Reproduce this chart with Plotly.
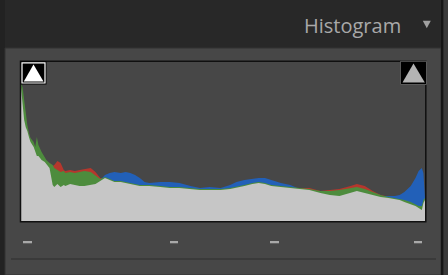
import plotly.graph_objects as go

# Tone levels (0-255) sampled along the histogram
levels = [0, 1, 2, 3, 4, 5, 6, 8, 9, 10, 11, 13, 15, 16, 18, 20, 21, 23, 25, 27, 28, 31, 34, 37, 40, 44, 47, 50,
          53, 56, 59, 63, 66, 69, 72, 75, 78, 81, 88, 94, 100, 107, 113, 119, 126, 132, 136, 141, 146, 150, 154,
          158, 164, 170, 176, 182, 189, 195, 201, 208, 212, 217, 222, 227, 232, 236, 239, 242, 246, 249, 251,
          253, 254, 255]

# Relative pixel counts (% of peak) per channel
luminance = [84, 73, 63.5, 59, 56.6, 52.8, 49.7, 46.5, 43.4, 40.9, 40.9, 38.4, 37.1, 35.9, 33.3, 22.6, 21.4,
             23.3, 21.4, 22.6, 22, 23.3, 22.6, 22, 22, 22.6, 23.3, 25.2, 27, 25.8, 24.5, 24.5, 23.9, 23.3, 22.6,
             22, 22, 22, 21.4, 20.8, 20.8, 20.1, 19.5, 19.5, 19.5, 20.1, 20.8, 22, 23.3, 23.9, 23.3, 22, 21.4,
             20.8, 20.1, 19.5, 17.6, 16.4, 15.7, 17.6, 18.9, 17.6, 16.4, 15.1, 14.5, 13.8, 13.2, 12, 10.7, 9.4,
             8.2, 6.9, 11.3, 13.2]

red = [84.9, 81.1, 73, 64.8, 58.5, 54.1, 50.9, 48.4, 45.3, 47.2, 44.7, 41.5, 39.6, 37.1, 36.5, 34.6, 35.2,
       37.7, 36.5, 32.1, 31.5, 32.1, 31.5, 32.1, 32.7, 33.3, 30.8, 27,
       27, 25.8, 24.5, 24.5, 23.9, 23.3, 22.6, 22, 22, 22, 21.4, 20.8, 20.8, 20.1, 19.5, 19.5, 19.5, 20.1,
       20.8, 22, 23.3, 23.9, 23.3, 22, 21.4, 20.8, 20.6,
       20.8, 18.9, 19.5, 20.1, 22, 23.3, 22, 18.9, 16.4, 15.1, 14.5, 13.8, 13.2, 12, 10.7, 9.4, 8, 12, 13]

green = [86.8, 84, 76.1, 66.7, 60.4, 55.4, 52.2, 49.7, 46.5, 52.8, 47.8, 43.4, 40.3, 38.4, 36.5, 35.2, 33.3,
         32.1, 30.8, 31.5, 30.2, 30.8, 30.2, 30.8, 31.5, 30.8, 28.3, 26.4,
         27.6, 26.4, 25.1, 25.1, 24.5, 23.9, 23.2, 22.6, 22.6, 22.6, 22, 21.4, 21.4, 20.7, 20.1, 20.1, 20.1,
         20.7, 21.4, 22.6, 23.9, 24.5, 23.9, 22.6, 22, 21.4, 20.7,
         20.1, 18.9, 18.9, 19.5, 20.8, 21.4, 20.1, 18.2, 16.4, 15.1, 14.5, 13.8, 13.2, 12, 10.7, 9.4, 9.4,
         13.2, 14.5]

blue = [84, 73, 63.5, 59, 56.6, 52.8, 49.7, 46.5, 43.4, 40.9, 40.9, 38.4, 37.1, 35.9, 33.3, 22.6, 21.4, 23.3,
        21.4, 22.6, 22, 23.3, 22.6, 22, 22, 22.6, 23.3,
        25.8, 28.9, 30.2, 30.8, 30.2, 30.8, 30.2, 28.9, 27, 24.5, 23.9, 24.5, 24.5, 23.9, 22, 20.8, 21.4, 20.8,
        22.6, 24.5, 25.8, 26.4, 27, 27, 25.8, 23.9, 22.6,
        20.1, 19.5, 17.6, 16.4, 15.7, 17.6, 18.9, 17.6, 16.4,
        15.7, 15.7, 15.7, 16.4, 18.2, 22, 27, 31.5, 33.3, 30, 14]

channels = [
    ("Red", red, "#b5372d"),
    ("Blue", blue, "#2260b8"),
    ("Green", green, "#4d8c3d"),
    ("Luminance", luminance, "#c6c6c6"),
]

W, H = 448, 275


def px(x):
    return x / W


def py(y):
    return 1 - y / H


fig = go.Figure()
for name, vals, col in channels:
    fig.add_trace(go.Scatter(x=levels, y=vals, name=name, mode="lines", fill="tozeroy",
                             line=dict(width=0, color=col), fillcolor=col, hoverinfo="skip"))

shapes = []
# left dark strip, panel, right strip
shapes.append(dict(type="rect", xref="paper", yref="paper", x0=0, x1=px(5), y0=0, y1=1,
                   fillcolor="#222222", line_width=0, layer="below"))
shapes.append(dict(type="rect", xref="paper", yref="paper", x0=px(5), x1=px(441), y0=0, y1=py(48),
                   fillcolor="#474747", line=dict(color="#333333", width=1), layer="below"))
shapes.append(dict(type="rect", xref="paper", yref="paper", x0=px(441), x1=px(443.5), y0=0, y1=1,
                   fillcolor="#161616", line_width=0, layer="below"))
shapes.append(dict(type="rect", xref="paper", yref="paper", x0=px(443.5), x1=1, y0=0, y1=1,
                   fillcolor="#3a3a3a", line_width=0, layer="below"))
# separator line
shapes.append(dict(type="rect", xref="paper", yref="paper", x0=px(11), x1=px(436), y0=py(260), y1=py(258),
                   fillcolor="#3a3a3a", line_width=0, layer="below"))
# dashes under histogram
for a, b in [(23, 32), (170, 178), (270, 279), (414, 422)]:
    shapes.append(dict(type="rect", xref="paper", yref="paper", x0=px(a), x1=px(b), y0=py(243.3), y1=py(241),
                       fillcolor="#a9a9a9", line_width=0, layer="below"))
# plot border
shapes.append(dict(type="rect", xref="paper", yref="paper", x0=px(20.5), x1=px(425.8), y0=py(221.8), y1=py(61.3),
                   line=dict(color="#101010", width=1.5), layer="above"))
# left clipping indicator
shapes.append(dict(type="rect", xref="paper", yref="paper", x0=px(20.5), x1=px(46.5), y0=py(84.5), y1=py(61.3),
                   fillcolor="#000000", line_width=0, layer="above"))
shapes.append(dict(type="rect", xref="paper", yref="paper", x0=px(22), x1=px(45), y0=py(83), y1=py(62.8),
                   fillcolor="rgba(0,0,0,0)", line=dict(color="#ffffff", width=1.2), layer="above"))
shapes.append(dict(type="path", xref="paper", yref="paper",
                   path=f"M {px(33.5)} {py(64.5)} L {px(43.5)} {py(81.5)} L {px(23.8)} {py(81.5)} Z",
                   fillcolor="#ffffff", line_width=0, layer="above"))
# right clipping indicator
shapes.append(dict(type="rect", xref="paper", yref="paper", x0=px(400.5), x1=px(426.5), y0=py(84.5), y1=py(61.3),
                   fillcolor="#000000", line=dict(color="#5a5a5a", width=1), layer="above"))
shapes.append(dict(type="path", xref="paper", yref="paper",
                   path=f"M {px(413.5)} {py(63.5)} L {px(424.8)} {py(82.5)} L {px(402.5)} {py(82.5)} Z",
                   fillcolor="#b4b4b4", line_width=0, layer="above"))
# header collapse triangle
shapes.append(dict(type="path", xref="paper", yref="paper",
                   path=f"M {px(422.8)} {py(20.8)} L {px(430.8)} {py(20.8)} L {px(426.8)} {py(28.3)} Z",
                   fillcolor="#a0a0a0", line_width=0, layer="above"))

fig.update_layout(
    width=W, height=H,
    margin=dict(l=0, r=0, t=0, b=0),
    paper_bgcolor="#282828",
    plot_bgcolor="#3a3a3a",
    showlegend=False,
    xaxis=dict(domain=[px(21), px(425)], range=[0, 255], visible=False, fixedrange=True),
    yaxis=dict(domain=[py(221), py(62)], range=[0, 100], visible=False, fixedrange=True),
    shapes=shapes,
    annotations=[dict(text="Histogram", xref="paper", yref="paper", x=px(302), y=py(25),
                      xanchor="left", yanchor="middle", showarrow=False,
                      font=dict(family="Open Sans", size=20, color="#a9a9a9"))],
)

fig.write_html("out.html")
